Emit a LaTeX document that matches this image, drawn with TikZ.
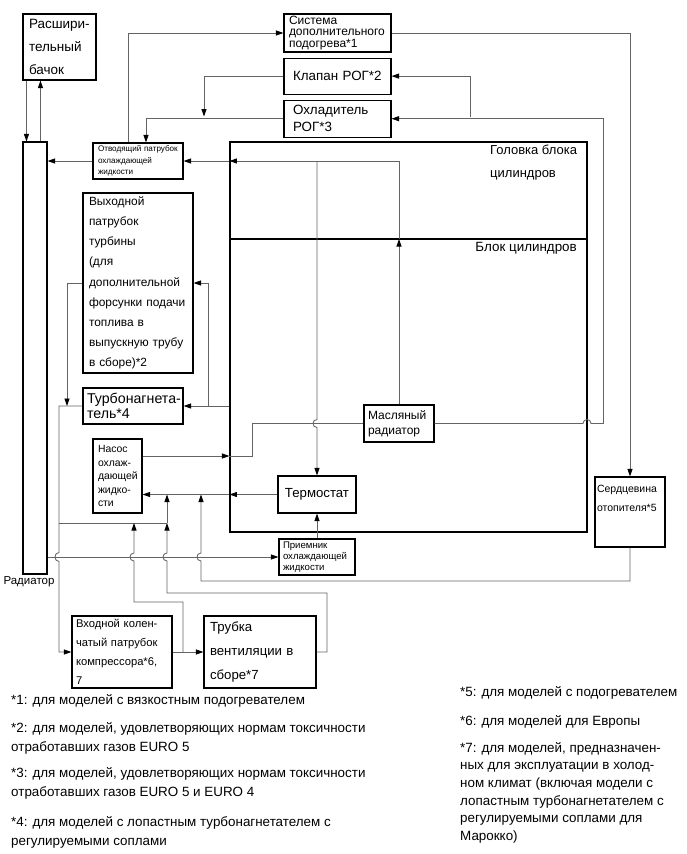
\documentclass[tikz,border=0pt]{standalone}
\usepackage{fontspec}
\setmainfont{Liberation Sans}
\usetikzlibrary{arrows.meta,positioning,calc}
\definecolor{linegray}{RGB}{100,100,100}
\newcommand\fs[2]{\fontsize{#1}{#2}\selectfont}

\begin{document}
\begin{tikzpicture}[x=1pt,y=-1pt,>={Triangle[length=7.5pt,width=5pt,color=black]}]
\tikzstyle{blk}=[draw=black,line width=1.1pt,inner ysep=0pt,align=left]
\tikzstyle{ln}=[draw=linegray,line width=0.85pt]
\tikzstyle{fl}=[ln,->]
\tikzstyle{note}=[inner sep=0pt,anchor=north west,align=left,font=\fs{13.4}{19.5}]
\useasboundingbox (0,0) rectangle (687,854);

% blocks
\node[blk,minimum width=73pt,minimum height=66pt,inner xsep=6pt,text width=61pt,font=\fs{13.5}{23}] (tank) at (59.5,47) {\mbox{Расшири-}\\тельный\\бачок};
\node[blk,minimum width=24pt,minimum height=432pt] (rad) at (35,358) {};
\node[inner sep=0pt,font=\fs{11.5}{14}] (radlbl) at (29,582) {Радиатор};
\node[blk,minimum width=90pt,minimum height=36pt,inner xsep=5pt,text width=80pt,font=\fs{8.1}{11.5}] (otv) at (138,161) {Отводящий~патрубок\\охлаждающей\\жидкости};
\node[blk,minimum width=107pt,minimum height=38pt,inner xsep=5pt,text width=97pt,font=\fs{12}{11.3}] (sys) at (337.5,33) {Система\\дополнительного\\подогрева*1};
\node[blk,minimum width=107pt,minimum height=36pt,inner xsep=9pt,text width=89pt,font=\fs{13.4}{16},below=5pt of sys] (klap) {Клапан~РОГ*2};
\node[blk,minimum width=107pt,minimum height=37pt,inner xsep=9pt,text width=89pt,font=\fs{13.4}{17},below=5pt of klap] (ohl) {Охладитель\\РОГ*3};
\node[blk,minimum width=357pt,minimum height=390pt] (eng) at (408.5,337) {};
\node[inner sep=0pt,anchor=north west,align=left,font=\fs{13}{23}] (headlbl) at (490,144.5) {Головка~блока\\цилиндров};
\node[inner sep=0pt,anchor=north east,font=\fs{13.4}{15}] (blocklbl) at (577,242) {Блок~цилиндров};
\node[blk,minimum width=110pt,minimum height=180pt,inner xsep=6pt,text width=98pt,font=\fs{11.9}{20.2}] (vyh) at (138,283) {Выходной\\патрубок\\турбины\\(для\\дополнительной\\форсунки~подачи\\топлива~в\\выпускную~трубу\\в~сборе)*2};
\node[blk,minimum width=100pt,minimum height=36pt,inner xsep=4pt,text width=92pt,font=\fs{14.2}{15}] (turbo) at (133,406) {\mbox{Турбонагнета-}\\тель*4};
\node[blk,minimum width=49pt,minimum height=74pt,inner xsep=5pt,text width=39pt,font=\fs{10.4}{13.5}] (nasos) at (117.5,476) {Насос\\\mbox{охлаж-}\\дающей\\\mbox{жидко-}\\сти};
\node[blk,minimum width=70pt,minimum height=37pt,inner xsep=4pt,text width=62pt,font=\fs{12}{15}] (masl) at (399,423.5) {Масляный\\радиатор};
\node[blk,minimum width=78pt,minimum height=37pt,align=center,font=\fs{13.2}{15}] (term) at (317,494.5) {Термостат};
\node[blk,minimum width=76pt,minimum height=36pt,inner xsep=4pt,text width=68pt,font=\fs{9.6}{11}] (prm) at (317,557) {Приемник\\охлаждающей\\жидкости};
\node[blk,minimum width=70pt,minimum height=70pt,inner xsep=2pt,text width=66pt,font=\fs{10.5}{19}] (serd) at (630,512) {Сердцевина\\отопителя*5\\[8pt]~};
\node[blk,minimum width=100pt,minimum height=72pt,inner xsep=4pt,text width=92pt,font=\fs{11.2}{19}] (vhod) at (122,652) {\mbox{Входной~колен-}\\чатый~патрубок\\компрессора*6,\\*7};
\node[blk,minimum width=112pt,minimum height=72pt,inner xsep=6pt,text width=100pt,font=\fs{13.2}{24}] (trub) at (260,652) {Трубка\\вентиляции~в\\сборе*7};

% junction points
\coordinate (hA) at (399,239);
\coordinate (hB) at (399,161);
\coordinate (egrj) at (204,116.5);
\coordinate (kj) at (470,116.5);
\coordinate (mR) at (603,423.5);
\coordinate (pA) at (252,456);
\coordinate (tj) at (208,406);
\coordinate (vj) at (67,406);
\coordinate (lA) at (59,406);

\draw[line width=1.1pt] (eng.west |- hA) -- (eng.east |- hA);

% connectors
\draw[fl] ($(tank.south west)+(4,0)$) -- ($(rad.north west)+(4,0)$);
\draw[fl] ($(rad.north west)+(18,0)$) -- ($(tank.south west)+(18,0)$);
\draw[fl] (otv.west) -- (otv.west -| rad.east);
\draw[fl] ($(otv.north)+(-10,0)$) |- (sys.west);
\draw[fl] (sys.east) -| (serd.north);
\draw[fl] (klap.west) -| (egrj);
\draw[fl] (ohl.west) -| ($(otv.north)+(8,0)$);
\draw[ln] (masl.east) -- (583,423.5) .. controls (583,418.2) and (591,418.2) .. (591,423.5) -- (mR);
\draw[fl] (mR) |- (ohl.east);
\draw[fl] (kj) |- (klap.east);
\draw[fl] (masl.north) -- (hA);
\draw[fl] (hA) -- (hB) -- (eng.west |- hB);
\draw[fl] (eng.west |- hB) -- (otv.east);
\draw[fl] (term.north |- hB) -- (317,419.5) .. controls (311.7,419.5) and (311.7,427.5) .. (317,427.5) -- (term.north);
\draw[fl] (nasos.east |- pA) -- (eng.west |- pA);
\draw[ln] (eng.west |- pA) -- (pA) |- (masl.west);
\draw[fl] (term.west) -- (eng.west |- term.west);
\draw[fl] (eng.west |- term.west) -- (nasos.east |- term.west);
\draw[fl] (prm.north) -- (term.south);
\draw[fl] (rad.east |- prm.west) -- (prm.west);
\draw[fl] (eng.west |- turbo.east) -- (turbo.east);
\draw[fl] (tj) |- (vyh.east);
\draw[fl] (vyh.west) -| (vj);
\draw[fl] (turbo.west) -- (lA) -- (59,552.5) .. controls (53.7,552.5) and (53.7,561.5) .. (59,561.5) |- (vhod.west);
\draw[ln] (59,523) -- (167,523);
\draw[fl] (trub.east) -- (327,652) -- (327,593) -- (167,593) -- (167,561) .. controls (161.7,561) and (161.7,553) .. (167,553) -- (167,523);
\draw[fl] (167,523) -- (167,494.5);
\draw[fl] (vhod.east) -- (trub.west);
\draw[fl] (183,652) -- (183,602) -- (134,602) -- (134,561) .. controls (128.7,561) and (128.7,553) .. (134,553) -- (134,523);
\draw[fl] (serd.south) -- (630,581) -- (201,581) -- (201,561) .. controls (195.7,561) and (195.7,553) .. (201,553) -- (201,494.5);

% notes
\node[note] (n1) at (11,694) {*1: для моделей с вязкостным подогревателем};
\node[note] (n2) at (11,722) {*2: для моделей, удовлетворяющих нормам токсичности\\отработавших газов EURO 5};
\node[note] (n3) at (11,767) {*3: для моделей, удовлетворяющих нормам токсичности\\отработавших газов EURO 5 и EURO 4};
\node[note] (n4) at (11,816) {*4: для моделей с лопастным турбонагнетателем с\\регулируемыми соплами};
\node[note] (n5) at (460,686) {*5: для моделей с подогревателем};
\node[note] (n6) at (460,715) {*6: для моделей для Европы};
\node[note,font=\fs{13.4}{17.7}] (n7) at (460,742) {*7: для моделей, предназначен-\\ных для эксплуатации в холод-\\ном климат (включая модели с\\лопастным турбонагнетателем с\\регулируемыми соплами для\\Марокко)};
\end{tikzpicture}
\end{document}
